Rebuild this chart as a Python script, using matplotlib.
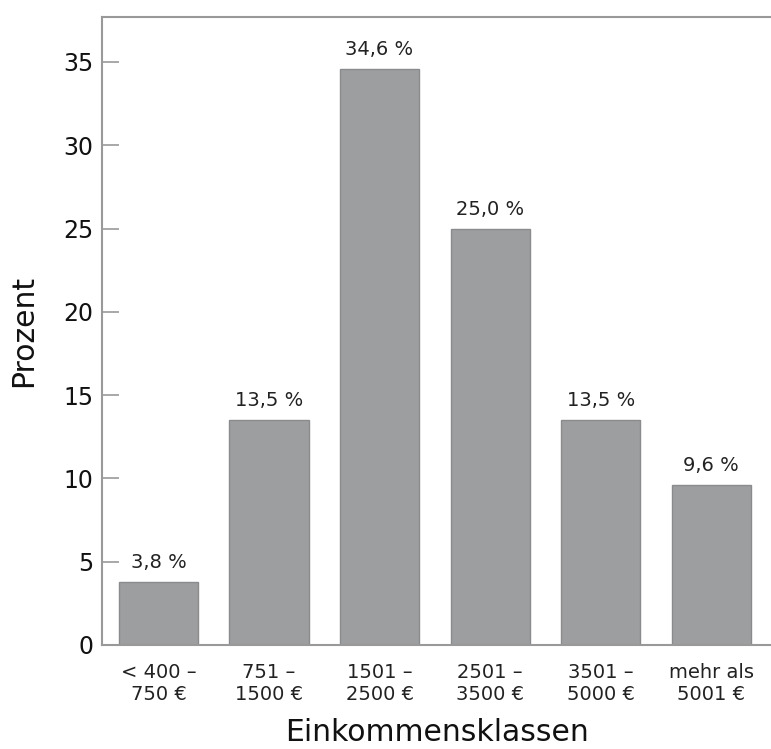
import matplotlib.pyplot as plt

categories = ['< 400 –\n750 €', '751 –\n1500 €', '1501 –\n2500 €',
              '2501 –\n3500 €', '3501 –\n5000 €', 'mehr als\n5001 €']
values = [3.8, 13.5, 34.6, 25.0, 13.5, 9.6]
yticks = [0, 5, 10, 15, 20, 25, 30, 35]

fig = plt.figure(figsize=(7.71, 7.49), dpi=100)
ax = fig.add_axes([0.1323, 0.1389, 0.8677, 0.8384])

x = range(len(values))
ax.bar(x, values, width=0.715, color='#9d9ea0', edgecolor='#8a8b8d', linewidth=1)
for i, v in enumerate(values):
    ax.text(i, v + 0.6, f'{v:.1f} %'.replace('.', ','), ha='center', va='bottom',
            fontsize=14, color='#222222')

ax.set_xlim(-0.51, 5.54)
ax.set_ylim(0, 37.7)
ax.set_xticks(list(x))
ax.set_xticklabels(categories, fontsize=14, color='#222222')
ax.set_yticks(yticks)
ax.tick_params(axis='y', direction='in', length=12, width=1.2, color='#999999',
               labelsize=17, labelcolor='#111111', pad=6)
ax.tick_params(axis='x', length=0, pad=13)
ax.spines['right'].set_visible(False)
for s in ['left', 'top', 'bottom']:
    ax.spines[s].set_color('#999999')
    ax.spines[s].set_linewidth(1.5)

ax.set_xlabel('Einkommensklassen', fontsize=21.5, color='#111111', labelpad=10)
ax.set_ylabel('Prozent', fontsize=21.5, color='#111111', labelpad=18)

fig.savefig('out.png', dpi=100)
